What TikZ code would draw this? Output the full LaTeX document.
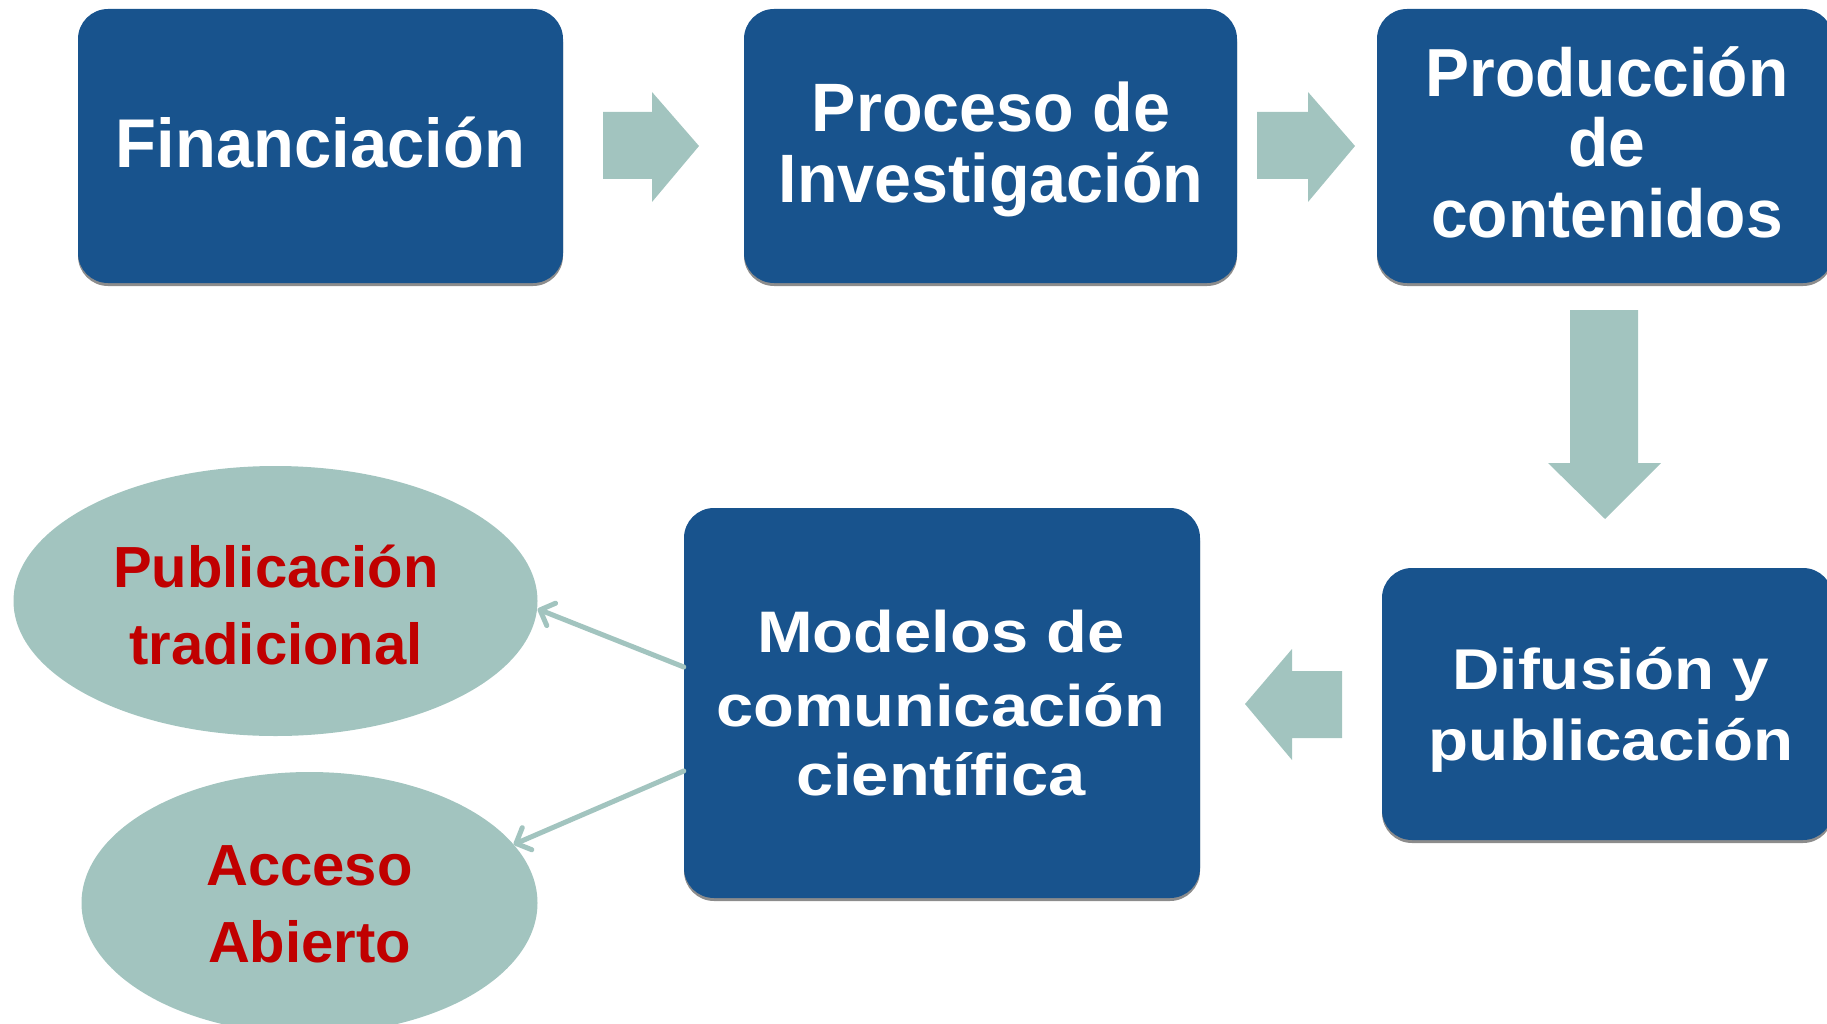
\documentclass[tikz,border=0pt]{standalone}
\usepackage{fontspec}
\setmainfont{Liberation Sans}
\newfontfamily\topfont[FakeStretch=0.97]{Liberation Sans}
\newfontfamily\botfont[FakeStretch=1.14]{Liberation Sans}
\usetikzlibrary{shapes.geometric,arrows.meta}
\definecolor{boxblue}{RGB}{24,83,141}
\definecolor{tealc}{RGB}{162,196,191}
\definecolor{redc}{RGB}{192,0,0}
\tikzset{
  box/.style={fill=boxblue, rounded corners=30pt, inner sep=0pt,
    preaction={fill=black!45, transform canvas={yshift=-3pt}}},
  oval/.style={ellipse, fill=tealc, inner sep=0pt},
  blockarrow/.style={fill=tealc},
  toptext/.style={anchor=base, inner sep=0pt, text=white},
  bottext/.style={anchor=base, inner sep=0pt, text=white},
  redtext/.style={anchor=base, inner sep=0pt, text=redc,
    font=\bfseries\fontsize{58}{58}\selectfont},
  thinarrow/.style={draw=tealc, line width=5pt, line cap=round,
    -{Straight Barb[length=12pt,width=24pt,round]}}
}
\begin{document}
\begin{tikzpicture}[x=1pt,y=-1pt]
\useasboundingbox (0,0) rectangle (1827,1024);
\clip (0,0) rectangle (1827,1024);

% boxes
\node[box, minimum width=485pt, minimum height=274pt] (b1) at (320.5,146) {};
\node[box, minimum width=493pt, minimum height=274pt] (b2) at (990.5,146) {};
\node[box, minimum width=456pt, minimum height=274pt] (b3) at (1605,146) {};
\node[box, minimum width=451pt, minimum height=272pt] (b5) at (1607.5,704) {};
\node[box, minimum width=516pt, minimum height=390pt] (b4) at (942,703) {};

% ellipses
\node[oval, minimum width=524pt, minimum height=270pt] (e1) at (275.5,601) {};
\node[oval, minimum width=456pt, minimum height=262pt] (e2) at (309.5,903) {};

% texts
\node[toptext, font=\topfont\bfseries\fontsize{69}{69}\selectfont] (t1) at (320.5,168) {Financiación};
\node[toptext, font=\topfont\bfseries\fontsize{68.5}{68.5}\selectfont] (t2a) at (991,132) {Proceso de};
\node[toptext, font=\topfont\bfseries\fontsize{68.5}{68.5}\selectfont] (t2b) at (991,203) {Investigación};
\node[toptext, font=\topfont\bfseries\fontsize{68}{68}\selectfont] (t3a) at (1607,97) {Producción};
\node[toptext, font=\topfont\bfseries\fontsize{68}{68}\selectfont] (t3b) at (1607,167) {de};
\node[toptext, font=\topfont\bfseries\fontsize{68}{68}\selectfont] (t3c) at (1607,238) {contenidos};
\node[bottext, font=\botfont\bfseries\fontsize{58.6}{58.6}\selectfont] (t4a) at (941,652) {Modelos de};
\node[bottext, font=\botfont\bfseries\fontsize{58.6}{58.6}\selectfont] (t4b) at (941,726) {comunicación};
\node[bottext, font=\botfont\bfseries\fontsize{58.6}{58.6}\selectfont] (t4c) at (941,795) {científica};
\node[bottext, font=\botfont\bfseries\fontsize{57.5}{57.5}\selectfont] (t5a) at (1611,689) {Difusión y};
\node[bottext, font=\botfont\bfseries\fontsize{57.5}{57.5}\selectfont] (t5b) at (1611,760) {publicación};
\node[redtext] (t6a) at (276,587) {Publicación};
\node[redtext] (t6b) at (276,664) {tradicional};
\node[redtext] (t7a) at (309.5,885) {Acceso};
\node[redtext] (t7b) at (309.5,962) {Abierto};

% block arrows
\fill[blockarrow] (603,112) -- (652,112) -- (652,92) -- (699,146) -- (652,202) -- (652,179) -- (603,179) -- cycle;
\fill[blockarrow] (1257,112) -- (1308,112) -- (1308,92) -- (1355,146) -- (1308,202) -- (1308,179) -- (1257,179) -- cycle;
\fill[blockarrow] (1570,310) -- (1638,310) -- (1638,463) -- (1661,463) -- (1605,519) -- (1548,463) -- (1570,463) -- cycle;
\fill[blockarrow] (1342,671) -- (1292,671) -- (1292,649) -- (1245,704) -- (1292,760) -- (1292,738) -- (1342,738) -- cycle;

% thin connectors
\draw[thinarrow] ([yshift=36pt]b4.west) -- ([yshift=-8pt]e1.east);
\draw[thinarrow] ([yshift=-68pt]b4.west) -- (e2.16);
\end{tikzpicture}
\end{document}
